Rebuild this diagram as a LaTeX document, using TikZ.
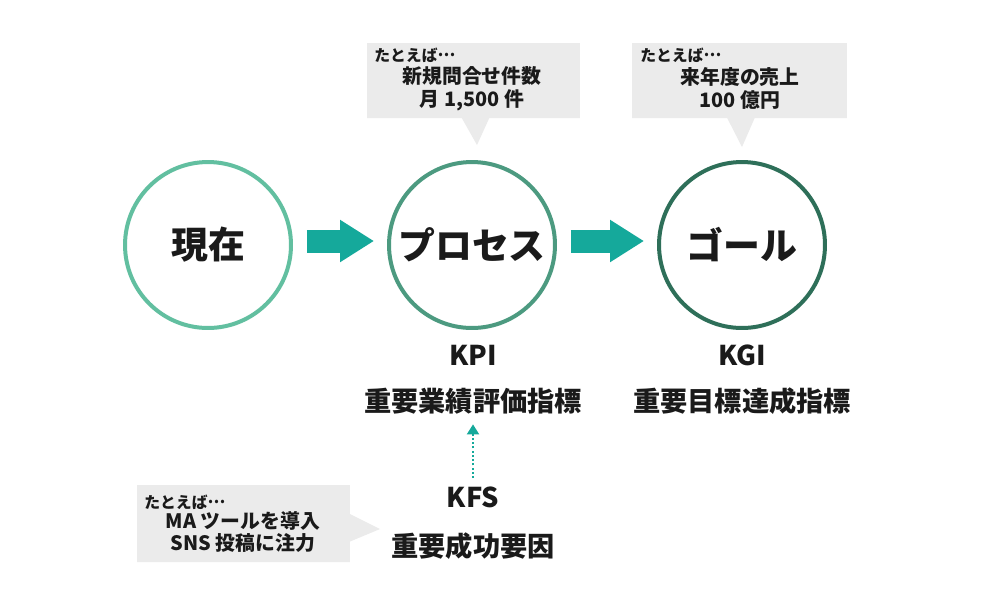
\documentclass[tikz,border=0pt]{standalone}
\usepackage{fontspec}
\setmainfont{Noto Sans CJK JP}
\usetikzlibrary{shapes, shapes.callouts, arrows.meta, positioning}

\definecolor{ringA}{HTML}{62BFA0}
\definecolor{ringB}{HTML}{4C9A80}
\definecolor{ringC}{HTML}{2E6F59}
\definecolor{flowteal}{HTML}{15A99B}
\definecolor{notegray}{HTML}{EBEBEB}
\definecolor{ink}{HTML}{1A1A1A}

% ellipsis set at mid height, as in Japanese text
\newcommand{\fwdots}{\raisebox{0.55ex}{…}}

\begin{document}
\begin{tikzpicture}[
    % GLOBAL CFG
    x=0.02cm, y=-0.02cm,
    font=\bfseries,
    text=ink,
    % Styles
    stage/.style={% For the three big circles
        circle,
        draw,
        line width=0.08cm,
        minimum size=3.32cm,
        inner sep=0pt,
        font=\fontsize{21}{24}\selectfont\bfseries,
        },
    flow/.style={% Fat arrows between stages
        draw=flowteal,
        line width=0.46cm,
        -{Triangle[width=0.8cm, length=0.68cm]},
        shorten <=0.28cm,
        shorten >=0.26cm,
        },
    hint/.style={% Dotted arrow from KFS up to KPI
        draw=flowteal,
        line width=0.04cm,
        dash pattern=on 0.04cm off 0.045cm,
        -{Triangle[width=0.24cm, length=0.2cm]},
        },
    note/.style={% Gray speech bubbles
        rectangle callout,
        fill=notegray,
        inner sep=0pt,
        callout pointer width=0.55cm,
        },
    notehead/.style={% the small "for example" line
        anchor=west,
        inner sep=0pt,
        font=\fontsize{9}{11}\selectfont\bfseries,
        },
    notetxt/.style={% text inside the bubbles
        align=center,
        inner sep=0pt,
        font=\fontsize{11.3}{13}\selectfont\bfseries,
        },
    tag/.style={% labels below the circles
        inner sep=0pt,
        font=\fontsize{15.5}{18}\selectfont\bfseries,
        },
    ]

%Start drawing the thing...
    \fill[white] (0,0) rectangle (1000,600);
    \useasboundingbox (0,0) rectangle (1000,600);

    % Draw the stages named now, proc, goal
    \node [stage, draw=ringA] (now) at (208,245) {現在};
    \node [stage, draw=ringB] (proc) at (472,245) {プロセス};
    \node [stage, draw=ringC] (goal) at (742,245) {ゴール};

    % Labels under the stages
    \node [tag] (kpi) at (473,355) {KPI};
    \node [tag] (kpiname) at (473,401) {重要業績評価指標};
    \node [tag] (kgi) at (742,355) {KGI};
    \node [tag] (kginame) at (742,401) {重要目標達成指標};
    \node [tag] (kfs) at (473,497) {KFS};
    \node [tag] (kfsname) at (473,546) {重要成功要因};

    % Pointer tips of the bubbles
    \coordinate (tip1) at (477,145);
    \coordinate (tip2) at (742,147);
    \coordinate (tip3) at (380,529);

    % Draw bubbles named note#
    \node [note, minimum width=4.26cm, minimum height=1.5cm,
        callout absolute pointer={(tip1)}] (note1) at (473.5,80.5) {};
    \node [note, minimum width=4.3cm, minimum height=1.5cm,
        callout absolute pointer={(tip2)}] (note2) at (739.5,80.5) {};
    \node [note, minimum width=4.26cm, minimum height=1.54cm,
        callout absolute pointer={(tip3)}] (note3) at (243.5,523.5) {};

    % Bubble texts
    \node [notehead] (eg1) at (374,55) {たとえば\fwdots};
    \node [notetxt] (note1txt) at (472,88.5) {新規問合せ件数\\月 1,500 件};
    \node [notehead] (eg2) at (640,55) {たとえば\fwdots};
    \node [notetxt] (note2txt) at (740,88.5) {来年度の売上\\100 億円};
    \node [notehead] (eg3) at (144,502) {たとえば\fwdots};
    \node [notetxt] (note3txt) at (243,532) {MA ツールを導入\\SNS 投稿に注力};

% Start connecting all.
    \draw [flow] ([yshift=0.08cm]now.east) -- ([yshift=0.08cm]proc.west);
    \draw [flow] ([yshift=0.08cm]proc.east) -- ([yshift=0.08cm]goal.west);
    \draw [hint] ([yshift=0.16cm]kfs.north) -- ([yshift=-0.2cm]kpiname.south);

\end{tikzpicture}
\end{document}
